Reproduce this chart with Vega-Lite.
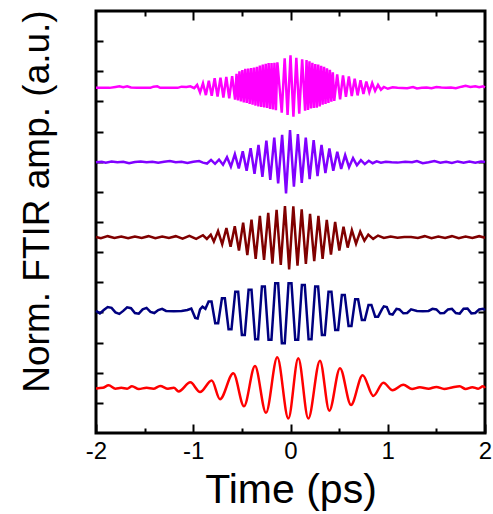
{
  "$schema": "https://vega.github.io/schema/vega-lite/v6.json",
  "autosize": {"type": "none"},
  "padding": {"left": 96, "top": 11, "right": 8, "bottom": 81},
  "width": 389,
  "height": 422,
  "config": {
    "view": {"stroke": "black", "strokeWidth": 3},
    "axis": {"domain": false, "grid": false, "tickColor": "black", "tickWidth": 2, "labelFont": "Liberation Sans", "labelFontSize": 24, "labelColor": "black", "titleFont": "Liberation Sans", "titleFontWeight": "normal", "titleColor": "black"}
  },
  "data": {"values": [
    {"s":"m","t":-2.00,"v":11.45},{"s":"m","t":-1.86,"v":11.45},{"s":"m","t":-1.80,"v":11.48},{"s":"m","t":-1.76,"v":11.50},{"s":"m","t":-1.72,"v":11.47},{"s":"m","t":-1.68,"v":11.50},{"s":"m","t":-1.64,"v":11.46},{"s":"m","t":-1.58,"v":11.45},{"s":"m","t":-1.44,"v":11.45},{"s":"m","t":-1.41,"v":11.49},{"s":"m","t":-1.37,"v":11.50},{"s":"m","t":-1.34,"v":11.45},{"s":"m","t":-1.16,"v":11.45},{"s":"m","t":-1.12,"v":11.49},{"s":"m","t":-1.07,"v":11.48},{"s":"m","t":-1.03,"v":11.50},{"s":"m","t":-0.99,"v":11.44},
    {"s":"m","t":-0.96,"v":11.55},{"s":"m","t":-0.93,"v":11.30},{"s":"m","t":-0.90,"v":11.60},{"s":"m","t":-0.87,"v":11.21},{"s":"m","t":-0.84,"v":11.69},{"s":"m","t":-0.81,"v":11.19},{"s":"m","t":-0.78,"v":11.77},{"s":"m","t":-0.75,"v":11.16},{"s":"m","t":-0.72,"v":11.79},{"s":"m","t":-0.69,"v":11.13},{"s":"m","t":-0.66,"v":11.81},{"s":"m","t":-0.63,"v":11.10},{"s":"m","t":-0.60,"v":11.84},
    {"s":"m","t":-0.570,"v":11.06},{"s":"m","t":-0.555,"v":11.92},{"s":"m","t":-0.540,"v":11.03},{"s":"m","t":-0.525,"v":12.00},{"s":"m","t":-0.510,"v":11.00},{"s":"m","t":-0.495,"v":12.04},{"s":"m","t":-0.480,"v":10.97},{"s":"m","t":-0.465,"v":12.08},{"s":"m","t":-0.450,"v":10.95},{"s":"m","t":-0.435,"v":12.09},{"s":"m","t":-0.420,"v":10.92},{"s":"m","t":-0.405,"v":12.11},{"s":"m","t":-0.390,"v":10.89},{"s":"m","t":-0.375,"v":12.12},{"s":"m","t":-0.360,"v":10.86},{"s":"m","t":-0.345,"v":12.15},{"s":"m","t":-0.330,"v":10.83},{"s":"m","t":-0.315,"v":12.19},{"s":"m","t":-0.300,"v":10.82},{"s":"m","t":-0.285,"v":12.22},{"s":"m","t":-0.270,"v":10.80},{"s":"m","t":-0.255,"v":12.25},{"s":"m","t":-0.240,"v":10.78},{"s":"m","t":-0.225,"v":12.27},{"s":"m","t":-0.210,"v":10.75},{"s":"m","t":-0.195,"v":12.27},{"s":"m","t":-0.180,"v":10.73},{"s":"m","t":-0.165,"v":12.28},{"s":"m","t":-0.150,"v":10.71},{"s":"m","t":-0.135,"v":12.30},
    {"s":"m","t":-0.09,"v":10.63},{"s":"m","t":-0.06,"v":12.43},{"s":"m","t":-0.03,"v":10.55},{"s":"m","t":0.00,"v":12.53},{"s":"m","t":0.03,"v":10.49},{"s":"m","t":0.06,"v":12.45},{"s":"m","t":0.09,"v":10.59},{"s":"m","t":0.12,"v":12.40},{"s":"m","t":0.15,"v":10.69},
    {"s":"m","t":0.165,"v":12.37},{"s":"m","t":0.180,"v":10.72},{"s":"m","t":0.195,"v":12.33},{"s":"m","t":0.210,"v":10.77},{"s":"m","t":0.225,"v":12.28},{"s":"m","t":0.240,"v":10.78},{"s":"m","t":0.255,"v":12.24},{"s":"m","t":0.270,"v":10.79},{"s":"m","t":0.285,"v":12.22},{"s":"m","t":0.300,"v":10.83},{"s":"m","t":0.315,"v":12.18},{"s":"m","t":0.330,"v":10.89},{"s":"m","t":0.345,"v":12.15},{"s":"m","t":0.360,"v":10.92},{"s":"m","t":0.375,"v":12.10},{"s":"m","t":0.390,"v":10.95},{"s":"m","t":0.405,"v":12.05},{"s":"m","t":0.420,"v":10.99},{"s":"m","t":0.435,"v":11.97},{"s":"m","t":0.450,"v":11.02},
    {"s":"m","t":0.48,"v":11.90},{"s":"m","t":0.51,"v":11.07},{"s":"m","t":0.54,"v":11.86},{"s":"m","t":0.57,"v":11.15},{"s":"m","t":0.60,"v":11.83},{"s":"m","t":0.63,"v":11.18},{"s":"m","t":0.66,"v":11.75},{"s":"m","t":0.69,"v":11.20},{"s":"m","t":0.72,"v":11.70},{"s":"m","t":0.75,"v":11.25},{"s":"m","t":0.78,"v":11.66},{"s":"m","t":0.81,"v":11.31},{"s":"m","t":0.84,"v":11.61},{"s":"m","t":0.87,"v":11.35},{"s":"m","t":0.90,"v":11.55},{"s":"m","t":0.93,"v":11.39},
    {"s":"m","t":0.96,"v":11.48},{"s":"m","t":1.00,"v":11.42},{"s":"m","t":1.05,"v":11.47},{"s":"m","t":1.10,"v":11.45},{"s":"m","t":1.20,"v":11.44},{"s":"m","t":1.26,"v":11.48},{"s":"m","t":1.30,"v":11.43},{"s":"m","t":1.35,"v":11.45},{"s":"m","t":1.40,"v":11.46},{"s":"m","t":1.45,"v":11.44},{"s":"m","t":1.50,"v":11.48},{"s":"m","t":1.55,"v":11.46},{"s":"m","t":1.60,"v":11.45},{"s":"m","t":1.65,"v":11.46},{"s":"m","t":1.70,"v":11.44},{"s":"m","t":1.76,"v":11.49},{"s":"m","t":1.80,"v":11.52},{"s":"m","t":1.85,"v":11.48},{"s":"m","t":1.90,"v":11.50},{"s":"m","t":1.94,"v":11.47},{"s":"m","t":1.98,"v":11.50},{"s":"m","t":2.00,"v":11.47},

    {"s":"p","t":-2.00,"v":8.98},{"s":"p","t":-1.94,"v":9.00},{"s":"p","t":-1.90,"v":8.97},{"s":"p","t":-1.84,"v":9.01},{"s":"p","t":-1.78,"v":8.98},{"s":"p","t":-1.72,"v":9.00},{"s":"p","t":-1.66,"v":8.95},{"s":"p","t":-1.60,"v":8.99},{"s":"p","t":-1.54,"v":9.01},{"s":"p","t":-1.48,"v":8.98},{"s":"p","t":-1.42,"v":9.00},{"s":"p","t":-1.36,"v":8.97},{"s":"p","t":-1.30,"v":9.00},{"s":"p","t":-1.24,"v":9.02},{"s":"p","t":-1.18,"v":8.98},{"s":"p","t":-1.12,"v":9.00},{"s":"p","t":-1.06,"v":8.96},{"s":"p","t":-1.00,"v":9.00},{"s":"p","t":-0.94,"v":9.02},{"s":"p","t":-0.90,"v":8.97},{"s":"p","t":-0.858,"v":8.94},{"s":"p","t":-0.817,"v":9.06},{"s":"p","t":-0.776,"v":8.93},{"s":"p","t":-0.735,"v":9.07},{"s":"p","t":-0.694,"v":8.90},
    {"s":"p","t":-0.653,"v":9.15},{"s":"p","t":-0.613,"v":8.84},{"s":"p","t":-0.572,"v":9.25},{"s":"p","t":-0.532,"v":8.78},{"s":"p","t":-0.491,"v":9.35},{"s":"p","t":-0.451,"v":8.70},{"s":"p","t":-0.410,"v":9.45},{"s":"p","t":-0.370,"v":8.60},{"s":"p","t":-0.329,"v":9.56},{"s":"p","t":-0.289,"v":8.50},{"s":"p","t":-0.248,"v":9.70},{"s":"p","t":-0.208,"v":8.40},{"s":"p","t":-0.167,"v":9.80},{"s":"p","t":-0.127,"v":8.28},{"s":"p","t":-0.086,"v":9.89},{"s":"p","t":-0.046,"v":7.95},{"s":"p","t":-0.005,"v":10.05},{"s":"p","t":0.035,"v":8.17},{"s":"p","t":0.076,"v":9.92},{"s":"p","t":0.116,"v":8.30},{"s":"p","t":0.157,"v":9.80},{"s":"p","t":0.197,"v":8.42},{"s":"p","t":0.238,"v":9.72},{"s":"p","t":0.278,"v":8.52},{"s":"p","t":0.319,"v":9.56},{"s":"p","t":0.359,"v":8.62},{"s":"p","t":0.400,"v":9.44},{"s":"p","t":0.440,"v":8.70},{"s":"p","t":0.481,"v":9.33},{"s":"p","t":0.521,"v":8.76},{"s":"p","t":0.562,"v":9.22},{"s":"p","t":0.602,"v":8.82},{"s":"p","t":0.643,"v":9.12},{"s":"p","t":0.683,"v":8.88},{"s":"p","t":0.724,"v":9.05},{"s":"p","t":0.764,"v":8.92},{"s":"p","t":0.805,"v":9.03},{"s":"p","t":0.845,"v":8.95},{"s":"p","t":0.886,"v":9.01},
    {"s":"p","t":0.93,"v":8.97},{"s":"p","t":0.98,"v":9.00},{"s":"p","t":1.04,"v":8.98},{"s":"p","t":1.10,"v":8.97},{"s":"p","t":1.18,"v":9.00},{"s":"p","t":1.25,"v":8.98},{"s":"p","t":1.30,"v":9.02},{"s":"p","t":1.36,"v":8.95},{"s":"p","t":1.42,"v":8.98},{"s":"p","t":1.48,"v":9.02},{"s":"p","t":1.54,"v":8.97},{"s":"p","t":1.60,"v":9.00},{"s":"p","t":1.66,"v":8.96},{"s":"p","t":1.72,"v":9.01},{"s":"p","t":1.78,"v":8.97},{"s":"p","t":1.84,"v":9.01},{"s":"p","t":1.90,"v":8.97},{"s":"p","t":1.96,"v":9.01},{"s":"p","t":2.00,"v":8.99},

    {"s":"d","t":-2.00,"v":6.50},{"s":"d","t":-1.95,"v":6.46},{"s":"d","t":-1.88,"v":6.53},{"s":"d","t":-1.81,"v":6.47},{"s":"d","t":-1.74,"v":6.52},{"s":"d","t":-1.67,"v":6.46},{"s":"d","t":-1.60,"v":6.52},{"s":"d","t":-1.53,"v":6.47},{"s":"d","t":-1.46,"v":6.53},{"s":"d","t":-1.39,"v":6.46},{"s":"d","t":-1.32,"v":6.52},{"s":"d","t":-1.25,"v":6.47},{"s":"d","t":-1.18,"v":6.53},{"s":"d","t":-1.11,"v":6.45},{"s":"d","t":-1.04,"v":6.54},{"s":"d","t":-0.97,"v":6.44},{"s":"d","t":-0.90,"v":6.56},{"s":"d","t":-0.86,"v":6.44},{"s":"d","t":-0.82,"v":6.58},
    {"s":"d","t":-0.788,"v":6.35},{"s":"d","t":-0.745,"v":6.70},{"s":"d","t":-0.702,"v":6.26},{"s":"d","t":-0.659,"v":6.80},{"s":"d","t":-0.616,"v":6.18},{"s":"d","t":-0.573,"v":6.86},{"s":"d","t":-0.530,"v":6.05},{"s":"d","t":-0.487,"v":6.98},{"s":"d","t":-0.444,"v":5.90},{"s":"d","t":-0.401,"v":7.08},{"s":"d","t":-0.358,"v":5.78},{"s":"d","t":-0.315,"v":7.20},{"s":"d","t":-0.272,"v":5.74},{"s":"d","t":-0.229,"v":7.30},{"s":"d","t":-0.186,"v":5.62},{"s":"d","t":-0.143,"v":7.40},{"s":"d","t":-0.100,"v":5.58},{"s":"d","t":-0.057,"v":7.53},{"s":"d","t":-0.014,"v":5.43},{"s":"d","t":0.029,"v":7.52},{"s":"d","t":0.072,"v":5.55},{"s":"d","t":0.115,"v":7.42},{"s":"d","t":0.158,"v":5.61},{"s":"d","t":0.201,"v":7.27},{"s":"d","t":0.244,"v":5.70},{"s":"d","t":0.287,"v":7.20},{"s":"d","t":0.330,"v":5.78},{"s":"d","t":0.373,"v":7.07},{"s":"d","t":0.416,"v":5.92},{"s":"d","t":0.459,"v":7.00},{"s":"d","t":0.502,"v":6.05},{"s":"d","t":0.545,"v":6.84},{"s":"d","t":0.588,"v":6.15},{"s":"d","t":0.631,"v":6.73},{"s":"d","t":0.674,"v":6.28},{"s":"d","t":0.717,"v":6.68},{"s":"d","t":0.760,"v":6.38},
    {"s":"d","t":0.80,"v":6.58},{"s":"d","t":0.85,"v":6.44},{"s":"d","t":0.90,"v":6.55},{"s":"d","t":0.96,"v":6.47},{"s":"d","t":1.03,"v":6.52},{"s":"d","t":1.10,"v":6.48},{"s":"d","t":1.17,"v":6.50},{"s":"d","t":1.24,"v":6.50},{"s":"d","t":1.31,"v":6.47},{"s":"d","t":1.38,"v":6.53},{"s":"d","t":1.45,"v":6.46},{"s":"d","t":1.52,"v":6.52},{"s":"d","t":1.59,"v":6.47},{"s":"d","t":1.66,"v":6.53},{"s":"d","t":1.73,"v":6.46},{"s":"d","t":1.80,"v":6.52},{"s":"d","t":1.87,"v":6.47},{"s":"d","t":1.94,"v":6.53},{"s":"d","t":2.00,"v":6.48},

    {"s":"n","t":-2.00,"v":4.05},{"s":"n","t":-1.96,"v":3.97},{"s":"n","t":-1.92,"v":4.08},{"s":"n","t":-1.88,"v":4.18},{"s":"n","t":-1.84,"v":4.15},{"s":"n","t":-1.80,"v":4.00},{"s":"n","t":-1.76,"v":3.95},{"s":"n","t":-1.72,"v":4.05},{"s":"n","t":-1.68,"v":4.17},{"s":"n","t":-1.64,"v":4.14},{"s":"n","t":-1.60,"v":3.98},{"s":"n","t":-1.56,"v":3.96},{"s":"n","t":-1.52,"v":4.10},{"s":"n","t":-1.48,"v":4.15},{"s":"n","t":-1.44,"v":4.02},{"s":"n","t":-1.40,"v":3.98},{"s":"n","t":-1.36,"v":4.08},{"s":"n","t":-1.32,"v":4.12},{"s":"n","t":-1.28,"v":4.05},{"s":"n","t":-1.20,"v":4.04},{"s":"n","t":-1.12,"v":4.05},{"s":"n","t":-1.06,"v":4.08},{"s":"n","t":-1.02,"v":4.13},{"s":"n","t":-0.98,"v":3.82},{"s":"n","t":-0.955,"v":3.80},{"s":"n","t":-0.93,"v":4.10},{"s":"n","t":-0.905,"v":4.19},{"s":"n","t":-0.875,"v":4.12},
    {"s":"n","t":-0.842,"v":4.36},{"s":"n","t":-0.812,"v":4.36},{"s":"n","t":-0.774,"v":3.64},{"s":"n","t":-0.744,"v":3.64},{"s":"n","t":-0.705,"v":4.47},{"s":"n","t":-0.675,"v":4.47},{"s":"n","t":-0.637,"v":3.44},{"s":"n","t":-0.607,"v":3.44},{"s":"n","t":-0.568,"v":4.69},{"s":"n","t":-0.538,"v":4.69},{"s":"n","t":-0.500,"v":3.25},{"s":"n","t":-0.470,"v":3.25},{"s":"n","t":-0.431,"v":4.75},{"s":"n","t":-0.401,"v":4.75},{"s":"n","t":-0.363,"v":3.11},{"s":"n","t":-0.333,"v":3.11},{"s":"n","t":-0.294,"v":4.86},{"s":"n","t":-0.264,"v":4.86},{"s":"n","t":-0.226,"v":3.09},{"s":"n","t":-0.196,"v":3.09},{"s":"n","t":-0.157,"v":4.97},{"s":"n","t":-0.127,"v":4.97},{"s":"n","t":-0.089,"v":2.98},{"s":"n","t":-0.059,"v":2.98},{"s":"n","t":-0.020,"v":4.97},{"s":"n","t":0.010,"v":4.97},{"s":"n","t":0.049,"v":3.09},{"s":"n","t":0.079,"v":3.09},{"s":"n","t":0.117,"v":4.91},{"s":"n","t":0.147,"v":4.91},{"s":"n","t":0.186,"v":3.11},{"s":"n","t":0.216,"v":3.11},{"s":"n","t":0.254,"v":4.86},{"s":"n","t":0.284,"v":4.86},{"s":"n","t":0.323,"v":3.25},{"s":"n","t":0.353,"v":3.25},{"s":"n","t":0.391,"v":4.69},{"s":"n","t":0.421,"v":4.69},{"s":"n","t":0.460,"v":3.42},{"s":"n","t":0.490,"v":3.42},{"s":"n","t":0.528,"v":4.58},{"s":"n","t":0.558,"v":4.58},{"s":"n","t":0.597,"v":3.55},{"s":"n","t":0.627,"v":3.55},{"s":"n","t":0.665,"v":4.44},{"s":"n","t":0.695,"v":4.44},{"s":"n","t":0.734,"v":3.75},{"s":"n","t":0.764,"v":3.75},{"s":"n","t":0.802,"v":4.25},{"s":"n","t":0.832,"v":4.25},{"s":"n","t":0.871,"v":3.86},{"s":"n","t":0.901,"v":3.86},
    {"s":"n","t":0.94,"v":4.10},{"s":"n","t":0.96,"v":4.20},{"s":"n","t":0.99,"v":4.18},{"s":"n","t":1.02,"v":3.95},{"s":"n","t":1.05,"v":3.93},{"s":"n","t":1.09,"v":4.12},{"s":"n","t":1.12,"v":4.10},{"s":"n","t":1.16,"v":3.97},{"s":"n","t":1.20,"v":3.98},{"s":"n","t":1.24,"v":4.10},{"s":"n","t":1.30,"v":4.05},{"s":"n","t":1.36,"v":4.04},{"s":"n","t":1.42,"v":4.05},{"s":"n","t":1.46,"v":4.12},{"s":"n","t":1.50,"v":4.10},{"s":"n","t":1.54,"v":3.97},{"s":"n","t":1.58,"v":3.98},{"s":"n","t":1.62,"v":4.10},{"s":"n","t":1.66,"v":4.12},{"s":"n","t":1.70,"v":3.98},{"s":"n","t":1.74,"v":3.96},{"s":"n","t":1.78,"v":4.12},{"s":"n","t":1.82,"v":4.13},{"s":"n","t":1.86,"v":3.97},{"s":"n","t":1.90,"v":3.98},{"s":"n","t":1.94,"v":4.10},{"s":"n","t":1.98,"v":4.12},{"s":"n","t":2.00,"v":4.08},

    {"s":"r","t":-2.00,"v":1.48},{"s":"r","t":-1.93,"v":1.50},{"s":"r","t":-1.87,"v":1.58},{"s":"r","t":-1.80,"v":1.47},{"s":"r","t":-1.74,"v":1.50},{"s":"r","t":-1.68,"v":1.47},{"s":"r","t":-1.63,"v":1.55},{"s":"r","t":-1.56,"v":1.46},{"s":"r","t":-1.48,"v":1.50},{"s":"r","t":-1.41,"v":1.47},{"s":"r","t":-1.34,"v":1.56},{"s":"r","t":-1.26,"v":1.47},{"s":"r","t":-1.20,"v":1.50},{"s":"r","t":-1.15,"v":1.38},{"s":"r","t":-1.03,"v":1.68},{"s":"r","t":-0.93,"v":1.36},{"s":"r","t":-0.81,"v":1.74},{"s":"r","t":-0.725,"v":1.12},{"s":"r","t":-0.588,"v":1.98},{"s":"r","t":-0.478,"v":0.89},{"s":"r","t":-0.365,"v":2.22},{"s":"r","t":-0.252,"v":0.67},{"s":"r","t":-0.136,"v":2.51},{"s":"r","t":-0.022,"v":0.48},{"s":"r","t":0.080,"v":2.48},{"s":"r","t":0.183,"v":0.48},{"s":"r","t":0.303,"v":2.40},{"s":"r","t":0.399,"v":0.74},{"s":"r","t":0.509,"v":2.15},{"s":"r","t":0.622,"v":0.93},{"s":"r","t":0.742,"v":1.92},{"s":"r","t":0.852,"v":1.23},{"s":"r","t":0.955,"v":1.67},{"s":"r","t":1.05,"v":1.42},{"s":"r","t":1.16,"v":1.60},{"s":"r","t":1.25,"v":1.46},{"s":"r","t":1.33,"v":1.52},{"s":"r","t":1.42,"v":1.47},{"s":"r","t":1.50,"v":1.53},{"s":"r","t":1.58,"v":1.46},{"s":"r","t":1.66,"v":1.51},{"s":"r","t":1.74,"v":1.55},{"s":"r","t":1.80,"v":1.46},{"s":"r","t":1.87,"v":1.52},{"s":"r","t":1.93,"v":1.47},{"s":"r","t":1.98,"v":1.55},{"s":"r","t":2.00,"v":1.49}
  ]},
  "layer": [
    {
      "transform": [{"filter": "datum.s !== 'r'"}],
      "mark": {"type": "line", "strokeWidth": 2.5},
      "encoding": {
        "x": {"field": "t", "type": "quantitative", "scale": {"domain": [-2, 2], "nice": false, "zero": false},
              "axis": {"orient": "bottom", "values": [-2, -1, 0, 1, 2], "tickSize": -9, "labelPadding": 15, "labelFlush": false, "labelExpr": "toString(datum.value)", "title": "Time (ps)", "titleFontSize": 41, "titlePadding": 7}},
        "y": {"field": "v", "type": "quantitative", "scale": {"domain": [0, 14], "nice": false, "zero": false},
              "axis": {"orient": "left", "values": [1,2,3,4,5,6,7,8,9,10,11,12,13], "tickSize": -7, "labels": false, "title": "Norm. FTIR amp. (a.u.)", "titleFontSize": 37, "titleX": -40, "titleY": 190}},
        "color": {"field": "s", "type": "nominal", "scale": {"domain": ["m", "p", "d", "n", "r"], "range": ["#ff00ff", "#8000ff", "#800000", "#000080", "#ff0000"]}, "legend": null}
      }
    },
    {
      "transform": [{"filter": "datum.s === 'r'"}],
      "mark": {"type": "line", "strokeWidth": 2.5, "interpolate": "monotone"},
      "encoding": {
        "x": {"field": "t", "type": "quantitative", "scale": {"domain": [-2, 2], "nice": false, "zero": false},
              "axis": {"orient": "top", "values": [-1, 0, 1], "tickSize": -9, "labels": false, "title": null}},
        "y": {"field": "v", "type": "quantitative", "scale": {"domain": [0, 14], "nice": false, "zero": false},
              "axis": {"orient": "right", "values": [1,2,3,4,5,6,7,8,9,10,11,12,13], "tickSize": -7, "labels": false, "title": null}},
        "color": {"field": "s", "type": "nominal", "scale": {"domain": ["m", "p", "d", "n", "r"], "range": ["#ff00ff", "#8000ff", "#800000", "#000080", "#ff0000"]}, "legend": null}
      }
    },
    {
      "mark": {"type": "point", "opacity": 0},
      "encoding": {
        "x": {"field": "t", "type": "quantitative", "scale": {"domain": [-2, 2], "nice": false, "zero": false},
              "axis": {"orient": "bottom", "values": [-1.5, -0.5, 0.5, 1.5], "tickSize": -5, "labels": false, "title": null}},
        "y": {"field": "v", "type": "quantitative", "scale": {"domain": [0, 14], "nice": false, "zero": false}, "axis": null}
      }
    },
    {
      "mark": {"type": "point", "opacity": 0},
      "encoding": {
        "x": {"field": "t", "type": "quantitative", "scale": {"domain": [-2, 2], "nice": false, "zero": false},
              "axis": {"orient": "top", "values": [-1.5, -0.5, 0.5, 1.5], "tickSize": -5, "labels": false, "title": null}},
        "y": {"field": "v", "type": "quantitative", "scale": {"domain": [0, 14], "nice": false, "zero": false}, "axis": null}
      }
    }
  ],
  "resolve": {"axis": {"x": "independent", "y": "independent"}}
}
